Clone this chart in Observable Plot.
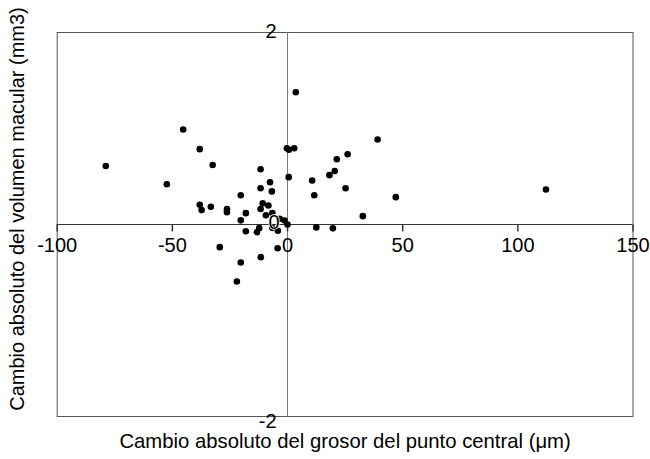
<!DOCTYPE html>
<html>
<head>
<meta charset="utf-8">
<script src="https://cdn.jsdelivr.net/npm/d3@7"></script>
<script src="https://cdn.jsdelivr.net/npm/@observablehq/plot@0.6"></script>
<style>
  html, body { margin: 0; padding: 0; background: #fff; }
  #chart svg { display: block; }
</style>
</head>
<body>
<div id="chart"></div>
<script>
// Cambio absoluto del grosor del punto central (µm)
const thickness = [
  -78.9, -52.4, -45.3, -38.1, -32.5, -38.1, -37.3, -33.3, -26.3, -26.3,
  -20.3, -18.1, -20.3, -11.7, -7.6, -6.8, -11.7, -10.8, -8.3, -11.7,
  -9.4, -6.6, -3.4, -1.3, 0.0, -6.6, -4.2, -12.3, -13.3, -18.1,
  -4.3, -29.4, -11.6, -20.3, -22.0, 3.6, -0.3, 0.6, 2.9, 0.5,
  10.7, 11.6, 18.2, 20.5, 21.4, 26.1, 25.2, 39.1, 47.0, 112.2,
  32.7, 12.5, 19.7
];
// Cambio absoluto del volumen macular (mm3)
const volume = [
  0.61, 0.42, 0.99, 0.785, 0.62, 0.205, 0.15, 0.185, 0.16, 0.128,
  0.305, 0.118, 0.043, 0.575, 0.44, 0.345, 0.378, 0.22, 0.198, 0.162,
  0.097, 0.118, 0.06, 0.042, 0.0, -0.035, -0.065, -0.038, -0.08, -0.07,
  -0.247, -0.236, -0.34, -0.396, -0.594, 1.377, 0.795, 0.778, 0.795, 0.493,
  0.458, 0.305, 0.514, 0.556, 0.68, 0.732, 0.378, 0.885, 0.285, 0.365,
  0.087, -0.03, -0.04
];
const xTicks = [-100, -50, 0, 50, 100, 150];
const xTickLabels = ["-100", "-50", "0", "50", "100", "150"];
const yTicks = [2, 0, -2];
const yTickLabels = ["2", "0", "-2"];
const xTitle = "Cambio absoluto del grosor del punto central (\u03bcm)";
const yTitle = "Cambio absoluto del volumen macular (mm3)";

const points = thickness.map((x, i) => ({x, y: volume[i]}));
const FONT = "Arial, 'Liberation Sans', sans-serif";

const tickDown = {draw(ctx) { ctx.moveTo(0, 0); ctx.lineTo(0, 7); }};

const yLabel = (i, dx, dy, halo) => Plot.text([yTicks[i]], {
  x: () => 0, y: d => d, text: () => yTickLabels[i],
  dx, dy, textAnchor: "end", lineAnchor: "middle", fill: "#000", fontSize: 20,
  stroke: halo ? "#fff" : "none", strokeWidth: halo ? 1.5 : 0, paintOrder: "stroke"
});

const chart = Plot.plot({
  width: 650,
  height: 459,
  marginLeft: 56.7,
  marginRight: 17.5,
  marginTop: 32,
  marginBottom: 43,
  style: {fontFamily: FONT, fontSize: "20px", background: "#fff", overflow: "visible"},
  x: {domain: [-100, 150], axis: null},
  y: {domain: [-2, 2], axis: null},
  marks: [
    Plot.frame({stroke: "#555"}),
    Plot.ruleX([0], {stroke: "#777"}),
    Plot.ruleY([0], {stroke: "#333"}),
    Plot.dot(xTicks, {x: d => d, y: () => 0, symbol: tickDown, stroke: "#333", fill: "none", r: 3}),
    Plot.dot(points, {x: "x", y: "y", r: 3.3, fill: "#000", stroke: "none"}),
    Plot.text(xTicks, {x: d => d, y: () => 0, text: (d, i) => xTickLabels[i], dy: 21.5, textAnchor: "middle", lineAnchor: "middle", fill: "#000", fontSize: 20}),
    yLabel(0, -11, -1, false),
    yLabel(1, -8, -2, true),
    yLabel(2, -11, 5, false),
    Plot.text([xTitle], {text: d => d, frameAnchor: "bottom", dy: 25, lineAnchor: "middle", textAnchor: "middle", fill: "#000", fontSize: 20.3}),
    Plot.text([yTitle], {text: d => d, frameAnchor: "left", rotate: -90, dx: -40, dy: -15.5, lineAnchor: "middle", textAnchor: "middle", fill: "#000", fontSize: 20})
  ]
});
document.getElementById("chart").appendChild(chart);
</script>
</body>
</html>
